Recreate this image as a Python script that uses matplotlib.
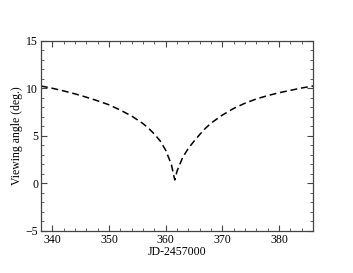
import matplotlib
matplotlib.use("Agg")
import matplotlib.pyplot as plt
from matplotlib.ticker import MultipleLocator

# Viewing angle vs time
jd = [338, 340, 342, 344, 346, 348, 350, 352, 354, 356, 357, 358, 359, 360,
      361, 361.6, 362, 363, 364, 365, 366, 367, 368, 370, 372, 374, 376,
      378, 380, 382, 384, 386]
angle = [10.26, 10.02, 9.74, 9.43, 9.08, 8.7, 8.28, 7.72, 7.1, 6.3, 5.8,
         5.2, 4.5, 3.5, 2.0, 0.37, 1.3, 2.75, 3.7, 4.45, 5.15, 5.8, 6.35,
         7.2, 7.9, 8.45, 8.9, 9.25, 9.55, 9.8, 10.05, 10.26]

plt.rcParams["font.family"] = ["Liberation Serif", "DejaVu Serif"]

fig = plt.figure(figsize=(3.53, 2.73), dpi=100)
ax = fig.add_axes([0.116, 0.154, 0.771, 0.696])

ax.plot(jd, angle, color="black", lw=1.1, ls=(0, (4.5, 2.5)))

ax.set_xlim(338, 386)
ax.set_ylim(-5, 15)
ax.xaxis.set_major_locator(MultipleLocator(10))
ax.xaxis.set_minor_locator(MultipleLocator(2))
ax.yaxis.set_major_locator(MultipleLocator(5))
ax.yaxis.set_minor_locator(MultipleLocator(1))
ax.tick_params(which="both", direction="in", top=True, right=True,
               color="#444444", labelsize=8.5, pad=2)
ax.tick_params(which="major", length=4, width=0.8)
ax.tick_params(which="minor", length=2, width=0.6)
for s in ax.spines.values():
    s.set_color("#444444")
    s.set_linewidth(0.9)

ax.set_xlabel("JD-2457000", fontsize=8.5, labelpad=0)
ax.set_ylabel("Viewing angle (deg.)", fontsize=8.5, labelpad=2)

fig.savefig("out.png", dpi=100)
